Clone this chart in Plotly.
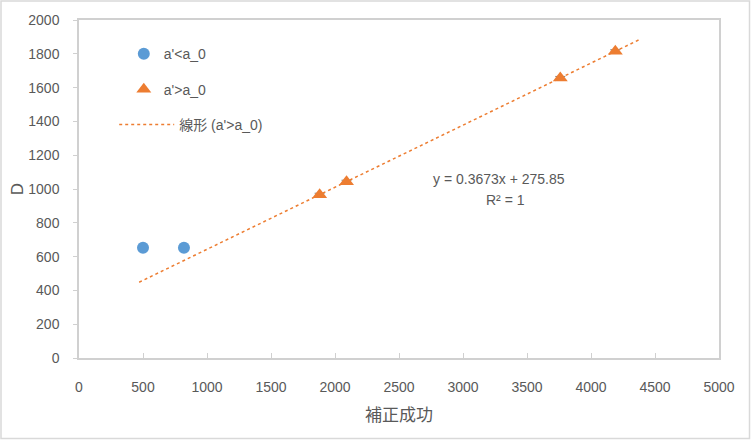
import plotly.graph_objects as go
import numpy as np

# 読み取り値
x_low = [500, 820]
y_low = [652, 652]
x_high = [1880, 2090, 3760, 4190]
y_high = [966, 1043, 1657, 1815]
err_high = [9, 9, 9, 9]
trend_range = [470, 4390]

x_ticks = list(range(0, 5001, 500))
y_ticks = list(range(0, 2001, 200))

tx = np.array(trend_range)
ty = 0.3673 * tx + 275.85

grey = "#595959"
frame = "#d0d0d0"
fig = go.Figure()

fig.add_trace(go.Scatter(
    x=x_low, y=y_low, mode="markers", name="a'<a_0",
    marker=dict(symbol="circle", size=12, color="#5b9bd5"),
    legend="legend", showlegend=True
))
fig.add_trace(go.Scatter(
    x=x_high, y=y_high, mode="markers", name="a'>a_0",
    marker=dict(symbol="triangle-up", size=13, color="#ed7d31"),
    error_y=dict(type="data", array=err_high, color="#7f7f7f", thickness=1, width=5),
    legend="legend2", showlegend=True
))
fig.add_trace(go.Scatter(
    x=tx, y=ty, mode="lines", name="線形 (a'>a_0)",
    line=dict(color="#ed7d31", width=1.5, dash="dot"),
    legend="legend3", showlegend=True
))

# 近似式
fig.add_annotation(x=3280, y=1062, text="y = 0.3673x + 275.85",
                   showarrow=False, font=dict(size=14, color=grey))
fig.add_annotation(x=3330, y=932, text="R² = 1",
                   showarrow=False, font=dict(size=14, color=grey))

leg = dict(bgcolor="rgba(0,0,0,0)", font=dict(size=14, color=grey),
           xanchor="left", yanchor="middle")
fig.update_layout(
    width=752, height=441,
    margin=dict(l=79, r=33, t=20, b=83),
    paper_bgcolor="white", plot_bgcolor="white",
    font=dict(family="Liberation Sans, Noto Sans CJK JP", color=grey),
    legend=dict(x=0.07, y=0.899, **leg),
    legend2=dict(x=0.07, y=0.794, **leg),
    legend3=dict(x=0.055, y=0.69, itemwidth=55, **leg),
    xaxis=dict(
        range=[0, 5000], tickvals=x_ticks, showgrid=False,
        showline=True, mirror=True, linecolor=frame, linewidth=1.5,
        zeroline=False, ticks="inside", ticklen=5, tickcolor=frame,
        automargin=False, ticklabelstandoff=15,
        tickfont=dict(size=14, color=grey),
        title=dict(text="補正成功", font=dict(size=17, color=grey), standoff=16)
    ),
    yaxis=dict(
        range=[0, 2000], tickvals=y_ticks, showgrid=False,
        showline=True, mirror=True, linecolor=frame, linewidth=1.5,
        zeroline=False, ticks="outside", ticklen=4, tickcolor=frame,
        automargin=False, ticklabelstandoff=11,
        tickfont=dict(size=14, color=grey),
        title=dict(text="D", font=dict(size=17, color=grey), standoff=0)
    ),
    shapes=[dict(type="rect", xref="paper", yref="paper",
                 x0=-78/640, x1=1+30.5/640, y0=-80.5/338, y1=1+19/338,
                 line=dict(color="#d9d9d9", width=1.5))]
)

fig.write_html("out.html", config={"displayModeBar": False},
               post_script="document.body.style.margin='0';")
